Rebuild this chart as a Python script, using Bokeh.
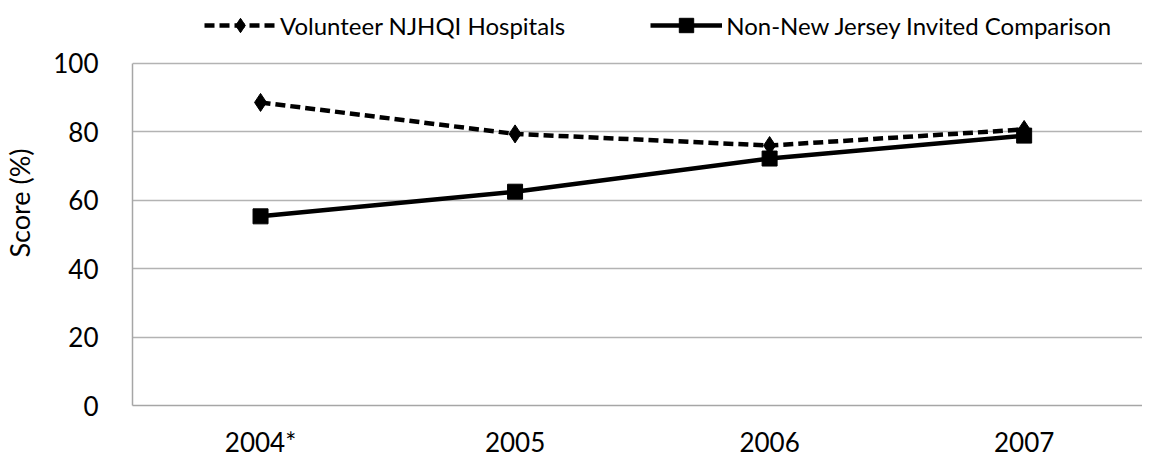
from bokeh.plotting import figure
from bokeh.models import Range1d, FixedTicker, Legend, LegendItem
from bokeh.embed import file_html
from bokeh.resources import INLINE

categories = ["2004*", "2005", "2006", "2007"]
volunteer = [88.6, 79.4, 76.0, 80.7]
non_nj = [55.3, 62.5, 72.2, 78.9]
y_ticks = [0, 20, 40, 60, 80, 100]

xs = list(range(len(categories)))
FONT = "Lato"

p = figure(width=1142, height=460, output_backend="svg", toolbar_location=None,
           x_range=Range1d(-0.503, 3.465), y_range=Range1d(0, 118.4),
           min_border_left=125, min_border_right=0, min_border_top=0, min_border_bottom=10)
p.outline_line_color = None
p.background_fill_color = "white"

r1 = p.line(xs, volunteer, line_color="black", line_width=4.5, line_dash="10 5")
m1 = p.scatter(xs, volunteer, marker="diamond", size=18, color="black")
r2 = p.line(xs, non_nj, line_color="black", line_width=4.5)
m2 = p.scatter(xs, non_nj, marker="square", size=15, color="black")

p.xaxis.ticker = FixedTicker(ticks=xs)
p.xaxis.major_label_overrides = {i: c for i, c in zip(xs, categories)}
p.yaxis.ticker = FixedTicker(ticks=y_ticks)
p.yaxis.bounds = (0, 100)
for ax in (p.xaxis, p.yaxis):
    ax.major_tick_line_color = None
    ax.minor_tick_line_color = None
    ax.axis_line_color = "#a6a6a6"
    ax.axis_line_width = 1.5
    ax.major_label_text_font = FONT
    ax.major_label_text_font_size = "26px"
    ax.major_label_text_color = "black"
p.xaxis.major_label_standoff = 14
p.yaxis.major_label_standoff = 28
p.yaxis.axis_label = "Score (%)"
p.yaxis.axis_label_text_font = FONT
p.yaxis.axis_label_text_font_size = "27px"
p.yaxis.axis_label_text_font_style = "normal"
p.yaxis.axis_label_text_color = "black"
p.yaxis.axis_label_standoff = 14
p.xgrid.grid_line_color = None
p.ygrid.grid_line_color = "#b3b3b3"
p.ygrid.grid_line_width = 1.5

legend = Legend(items=[LegendItem(label="Volunteer NJHQI Hospitals", renderers=[r1, m1]),
                       LegendItem(label="Non-New Jersey Invited Comparison", renderers=[r2, m2])],
                orientation="horizontal", location=(72, 362),
                label_text_font=FONT, label_text_font_size="24px", label_text_color="black",
                glyph_width=72, glyph_height=36, spacing=85, label_standoff=4,
                border_line_color=None, background_fill_alpha=0, padding=0, margin=0)
p.add_layout(legend, "center")

open("out.html", "w").write(file_html(p, INLINE))
